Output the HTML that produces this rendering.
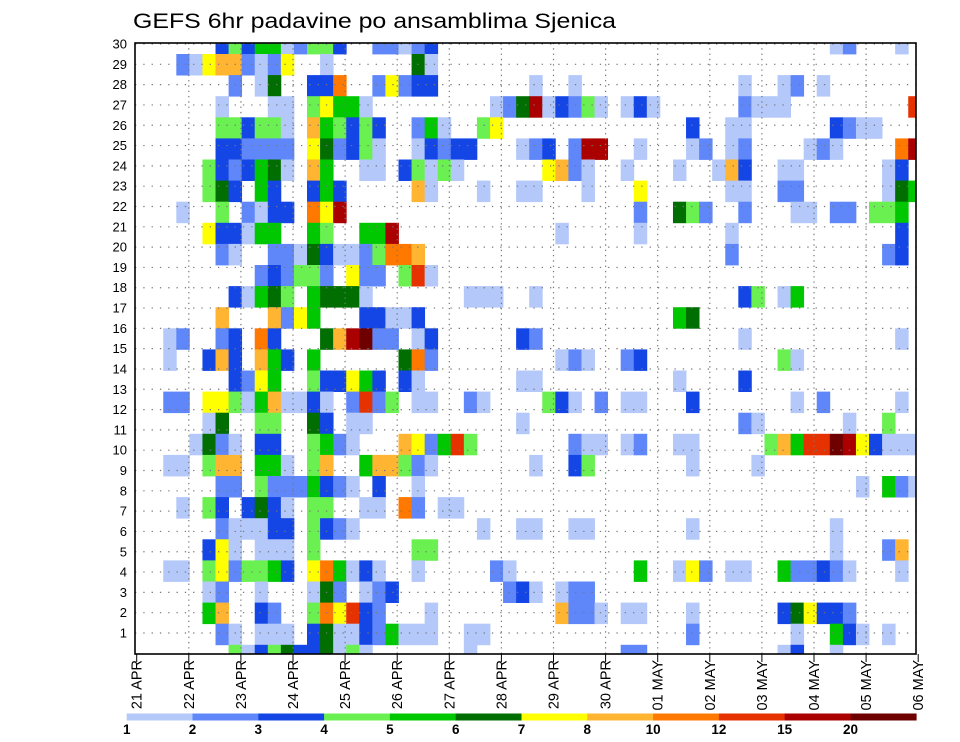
<!DOCTYPE html>
<html>
<head>
<meta charset="utf-8">
<style>
  html, body { margin: 0; padding: 0; background: #fff; }
  svg { display: block; font-family: "Liberation Sans", sans-serif; }
</style>
</head>
<body>
<svg id="chart" width="960" height="742" viewBox="0 0 960 742" xmlns="http://www.w3.org/2000/svg">
  <text x="133" y="28" font-size="21" textLength="483" lengthAdjust="spacingAndGlyphs" fill="#000">GEFS 6hr padavine po ansamblima Sjenica</text>
  <defs>
    <clipPath id="plotclip"><rect x="135" y="43" width="781" height="611"/></clipPath>
  </defs>
  <g id="cells" clip-path="url(#plotclip)"></g>
  <g id="grid"></g>
  <rect x="135" y="43" width="781" height="611" fill="none" stroke="#000" stroke-width="1.6"/>
  <g id="yaxis"></g>
  <g id="xaxis"></g>
  <g id="colorbar"></g>
</svg>
<script>
// ---- data ----
const levelCodes = ["a","b","c","d","e","f","g","h","i","j","k","l"];
const levelColors = ["#b4c8fa","#5f87fa","#1446e6","#6af050","#00c800","#006e00","#ffff00","#ffb432","#ff7800","#e63200","#aa0000","#6e0000"];
const colorbarLabels = ["1","2","3","4","5","6","7","8","10","12","15","20"];
const dateLabels = ["21 APR","22 APR","23 APR","24 APR","25 APR","26 APR","27 APR","28 APR","29 APR","30 APR","01 MAY","02 MAY","03 MAY","04 MAY","05 MAY","06 MAY"];
const memberLabels = [1,2,3,4,5,6,7,8,9,10,11,12,13,14,15,16,17,18,19,20,21,22,23,24,25,26,27,28,29,30];
// rows from top of plot to bottom; each char = 6-hourly time step category
const rowsA = [
"......cdceeabddc..bbabc",
"...baghhbabg..a......fa",
".......b.af..cci..bgbcc",
"......a...aa.dgeea.....",
"......ddcdda.hedcdc..be",
"......ccbbbb.gfbcda..ac",
".....dcbcefa.he..aa.cda",
".....dfc.ec..cec.....ha",
"...a..d.bacc.igk.......",
".....gccaee..ed..eek...",
"......ba..bbafcaabdiih.",
".........bcbddb.gbb.dja",
".......caefd.efffa.....",
"......h...hbge...ccaac.",
"..ab..bc.ic...fhklbb.ac",
"..a..chc.hec.e......fib",
".......cbge..dccgec.ca.",
"..bb.ggdaehaaca.bjbd.aa",
".....af..dd..fc.aa.....",
"....afba.cc..deba...hgb",
"..aa.dhh.eea.dh..ehhdba",
"......bb.dbbbecba.c..a.",
"...a.dc.cfca.dd..aa.ib.",
"......baaacc.dcba......",
".....cga.aaa.d.......dd",
"..aa.dgbddec.gieaca..a.",
".....ab..a...afb.abc...",
".....eh..cb..digjcb...a",
"......ba.aaa.cfaacbeaaa",
".......dacdfccfada....."
];
const rowsB = [
"......................",
"......................",
".......a..a...........",
"....abfkacbda.aca.....",
"a..dg..............c..",
"bcc...abc.bkk..a...ab.",
"da......ghba..a...a..a",
"...a..aa...a...g......",
"...............b..fdb.",
".........a.....a......",
"......................",
"......................",
"..aaa..a..............",
"..................ef..",
"......cb..............",
".........aba..bc......",
"......aa..........a...",
"..ba....dca.b.aa...c..",
"......a...............",
"ejd.......baa.ab..aa..",
".......a..cd.......a..",
"......................",
"aa....................",
"...a..aa..aa.......a..",
"......................",
"....ba.........e..agb.",
".....bca.abb..........",
".........hbba.aa...a..",
"..aa...............b..",
"..a...........bb......"
];
const rowsC = [
"........ab...a.",
"...............",
".a..ab.a.......",
".baaa.........j",
"aa......cbaa...",
"ab....aba....ik",
"hc..aa......ac.",
"aa..bb......afe",
".b...aa.bb.dde.",
"a............c.",
"b...........bc.",
"...............",
".cd.ae.........",
"...............",
".a...........a.",
"....da.........",
".c.............",
".....a.b.....a.",
".ba......a..d..",
"...dhejjlkgcaaa",
"..a............",
"..........a.eba",
"...............",
"........a......",
"........a...bh.",
"aa..ebbcba...a.",
"...............",
"....cfgccb.....",
".....a..eca.a..",
"....ac..a......"
];

// ---- scales ----
const X0 = 137.1, CW = 13.07;       // time step columns
const Y0 = 32.9, RH = 21.1;         // ensemble rows
const TICK0 = 136.7, DAYW = 52.1;   // date ticks
function colX(j){ return X0 + CW*j; }
function rowY(i){ return Y0 + RH*i; }
function dayX(k){ return TICK0 + DAYW*k; }
function memberY(n){ return 633 - (n-1)*20.31; }

const NS = "http://www.w3.org/2000/svg";
function mk(tag, attrs, parent){
  const el = document.createElementNS(NS, tag);
  for (const k in attrs) el.setAttribute(k, attrs[k]);
  parent.appendChild(el);
  return el;
}

// ---- cells ----
const cellsG = document.getElementById("cells");
for (let i = 0; i < rowsA.length; i++){
  const row = (rowsA[i] + rowsB[i] + rowsC[i]);
  for (let j = 0; j < row.length; j++){
    const li = levelCodes.indexOf(row[j]);
    if (li < 0) continue;
    const r = mk("rect", {x: colX(j).toFixed(2), y: rowY(i).toFixed(2), width: (CW+0.4).toFixed(2), height: (RH+0.4).toFixed(2), fill: levelColors[li]}, cellsG);
    
    
  }
}

// ---- grid ----
const gridG = document.getElementById("grid");
for (let n = 1; n <= 30; n++){
  const y = memberY(n);
  const l = mk("line", {x1:135, x2:916, y1:y, y2:y, stroke:"#777", "stroke-width":1.2, "stroke-dasharray":"1.3,7"}, gridG);
  
  
}
for (let k = 1; k < dateLabels.length; k++){
  const x = dayX(k);
  if (x > 914) continue;
  const l = mk("line", {x1:x, x2:x, y1:43, y2:654, stroke:"#777", "stroke-width":1.2, "stroke-dasharray":"1.3,4"}, gridG);
  
  
}

// ---- y axis ----
const yG = document.getElementById("yaxis");
memberLabels.forEach(n => {
  const t = mk("text", {x:127, y: memberY(n)+4.5, "font-size":13, "text-anchor":"end", fill:"#000"}, yG);
  t.textContent = String(n);
  
  
});

// ---- x axis ----
const xG = document.getElementById("xaxis");
dateLabels.forEach((d, k) => {
  const x = dayX(k);
  const tk = mk("line", {x1:x, x2:x, y1:654, y2:662, stroke:"#000", "stroke-width":1}, xG);
  
  
  const t = mk("text", {x:0, y:0, "font-size":14.5, "text-anchor":"end", fill:"#000",
    transform:"translate(" + (x+5).toFixed(1) + ",660) rotate(-90)"}, xG);
  t.textContent = d;
  
  
});

// ---- colorbar ----
const cbG = document.getElementById("colorbar");
const CB0 = 126.7, CBW = 65.8;
levelColors.forEach((c, i) => {
  const r = mk("rect", {x:(CB0 + CBW*i).toFixed(1), y:713.5, width:(CBW+0.3).toFixed(1), height:7, fill:c}, cbG);
  
  
});
colorbarLabels.forEach((s, i) => {
  const t = mk("text", {x:(CB0 + CBW*i).toFixed(1), y:734, "font-size":13.5, "font-weight":"bold", "text-anchor":"middle", fill:"#000"}, cbG);
  t.textContent = s;
  
  
});
</script>
</body>
</html>
